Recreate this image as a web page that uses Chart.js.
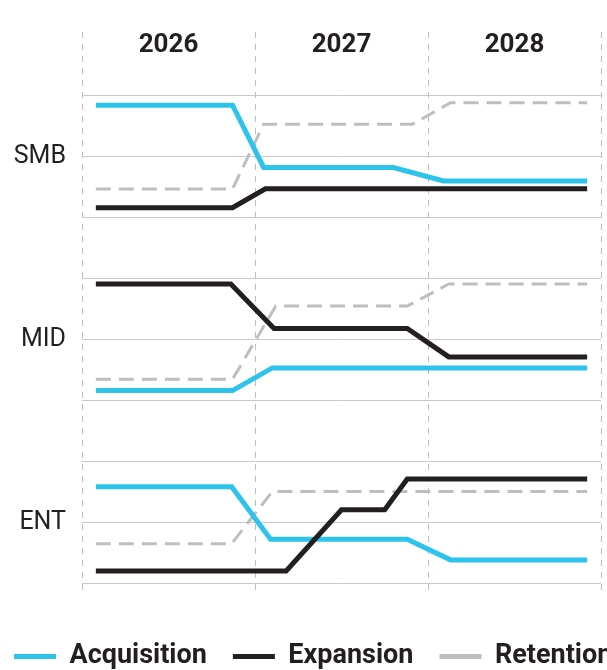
<!DOCTYPE html>
<html>
<head>
<meta charset="utf-8">
<script src="https://cdn.jsdelivr.net/npm/chart.js@4.4.1/dist/chart.umd.min.js"></script>
<style>
  html, body { margin: 0; padding: 0; background: #fff; overflow: hidden; width: 607px; height: 670px; }
  #wrap { position: absolute; left: -12px; top: 0; width: 680px; height: 680px; }
</style>
</head>
<body>
<div id="wrap"><canvas id="chart"></canvas></div>
<script>
const years = ['2026', '2027', '2028'];
const segments = ['SMB', 'MID', 'ENT'];
const seriesNames = ['Acquisition', 'Expansion', 'Retention'];
const seriesColors = ['#2dc3eb', '#231f20', '#bdbec1'];

// x = years since start of 2026, y = 0-100 within each segment band
const smbAcqX = [0.08, 0.87, 1.05, 1.80, 2.09, 2.92];
const smbAcqY = [92, 92, 41, 41, 30, 30];
const smbExpX = [0.08, 0.87, 1.06, 2.92];
const smbExpY = [8, 8, 23.6, 23.6];
const smbRetX = [0.08, 0.87, 1.05, 1.91, 2.13, 2.92];
const smbRetY = [23.4, 23.4, 76.5, 76.5, 94, 94];

const midAcqX = [0.08, 0.87, 1.10, 2.92];
const midAcqY = [8.2, 8.2, 26.8, 26.8];
const midExpX = [0.08, 0.86, 1.11, 1.88, 2.12, 2.92];
const midExpY = [95.5, 95.5, 59.1, 59.1, 35.8, 35.8];
const midRetX = [0.08, 0.87, 1.12, 1.88, 2.12, 2.92];
const midRetY = [17.5, 17.5, 77.5, 77.5, 95.5, 95.5];

const entAcqX = [0.08, 0.865, 1.09, 1.88, 2.13, 2.92];
const entAcqY = [79.4, 79.4, 36.4, 36.4, 19.5, 19.5];
const entExpX = [0.08, 1.18, 1.50, 1.75, 1.88, 2.92];
const entExpY = [10.4, 10.4, 60.5, 60.5, 85.7, 85.7];
const entRetX = [0.08, 0.865, 1.10, 2.92];
const entRetY = [32.8, 32.8, 75.5, 75.5];

// band base on the shared y axis for SMB, MID, ENT
const bandBase = [300, 150, 0];

const seriesX = [
  [smbAcqX, midAcqX, entAcqX],
  [smbExpX, midExpX, entExpX],
  [smbRetX, midRetX, entRetX]
];
const seriesY = [
  [smbAcqY, midAcqY, entAcqY],
  [smbExpY, midExpY, entExpY],
  [smbRetY, midRetY, entRetY]
];

function buildPoints(xsList, ysList) {
  const pts = [];
  xsList.forEach((xs, b) => {
    xs.forEach((x, i) => pts.push({x: x, y: ysList[b][i] + bandBase[b]}));
    pts.push({x: xs[xs.length - 1], y: null});
  });
  return pts;
}

const datasets = seriesNames.map((name, i) => ({
  label: name,
  data: buildPoints(seriesX[i], seriesY[i]),
  borderColor: seriesColors[i],
  backgroundColor: seriesColors[i],
  borderWidth: i === 2 ? 3 : 5,
  borderDash: i === 2 ? [15, 8] : [],
  pointRadius: 0,
  tension: 0,
  spanGaps: false,
  order: [1, 0, 2][i]
}));

const bandTicks = [];
bandBase.forEach(b => bandTicks.push(b, b + 50, b + 100));

const yearLabels = {
  id: 'yearLabels',
  afterDraw(chart) {
    const ctx = chart.ctx;
    const xScale = chart.scales.x;
    ctx.save();
    ctx.font = 'bold 26px Roboto';
    ctx.fillStyle = '#231f20';
    ctx.textAlign = 'center';
    ctx.textBaseline = 'middle';
    years.forEach((y, i) => {
      ctx.fillText(y, xScale.getPixelForValue(i + 0.5), chart.chartArea.top + 13);
    });
    ctx.restore();
  }
};

const ctx = document.getElementById('chart').getContext('2d');
const chart = new Chart(ctx, {
  type: 'line',
  data: {datasets: datasets},
  plugins: [yearLabels],
  options: {
    responsive: true,
    maintainAspectRatio: false,
    animation: false,
    layout: {padding: {top: 32, left: 0, right: 0, bottom: 0}},
    scales: {
      x: {
        type: 'linear',
        min: 0,
        max: 3,
        ticks: {stepSize: 1, display: false},
        grid: {color: '#bdbdbd', lineWidth: 1, drawTicks: false},
        border: {display: false, dash: [6, 6]},
        afterFit: scale => { scale.height = 26; }
      },
      y: {
        type: 'linear',
        position: 'left',
        min: -6,
        max: 452,
        afterBuildTicks: scale => {
          scale.ticks = bandTicks.map(v => ({value: v}));
        },
        afterFit: scale => { scale.width = 94; },
        ticks: {
          autoSkip: false,
          padding: 16,
          color: '#231f20',
          font: {family: 'Roboto', size: 25},
          callback: value => {
            const b = bandBase.findIndex(base => base + 50 === value);
            return b >= 0 ? segments[b] : '';
          }
        },
        grid: {color: '#c8c8c8', lineWidth: 1, drawTicks: false},
        border: {display: false}
      },
      yRight: {
        type: 'linear',
        position: 'right',
        min: 0,
        max: 1,
        ticks: {display: false},
        grid: {display: false},
        border: {display: false},
        afterFit: scale => { scale.width = 67; }
      }
    },
    plugins: {
      tooltip: {enabled: false},
      legend: {
        position: 'bottom',
        align: 'start',
        labels: {
          usePointStyle: true,
          pointStyle: 'line',
          pointStyleWidth: 42,
          padding: 26,
          color: '#231f20',
          font: {family: 'Roboto', size: 27, weight: 'bold'},
          sort: (a, b) => a.datasetIndex - b.datasetIndex,
          generateLabels: chart => {
            const items = Chart.defaults.plugins.legend.labels.generateLabels(chart);
            items.forEach(item => {
              item.lineWidth = 5;
              if (item.lineDash && item.lineDash.length) {
                item.lineDash = [18, 7];
              }
            });
            return items;
          }
        }
      }
    }
  }
});
</script>
</body>
</html>
